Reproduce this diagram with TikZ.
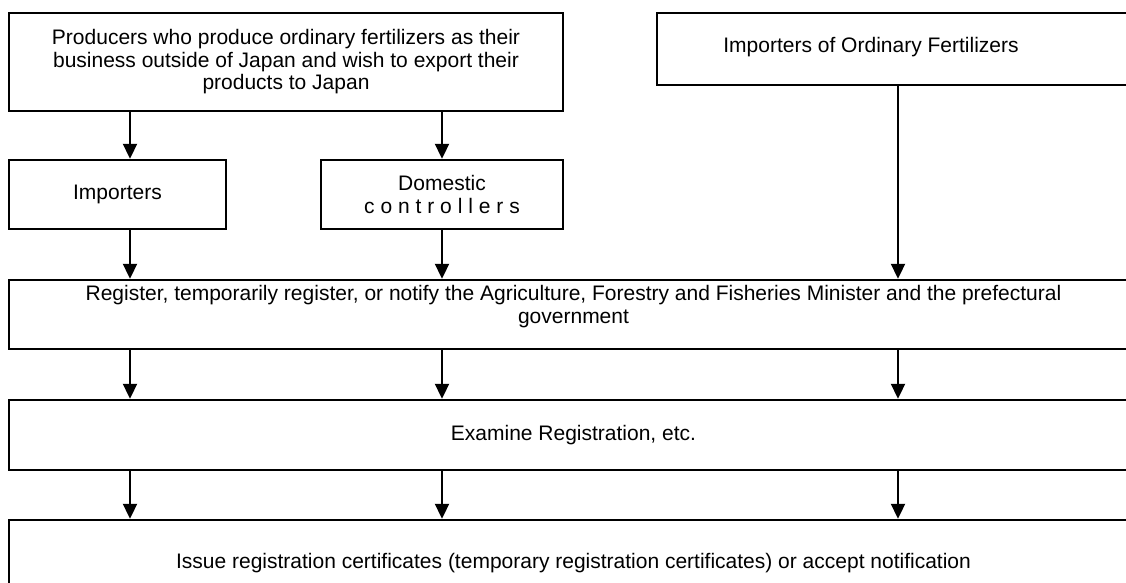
\documentclass[tikz,border=0pt]{standalone}
\usepackage{fontspec}
\setmainfont{Liberation Sans}
\usetikzlibrary{arrows.meta}
\begin{document}
\begin{tikzpicture}[x=1pt,y=-1pt,
  box/.style={draw, line width=1.4pt, inner sep=0pt, align=center,
    font=\fontsize{21}{22.5}\selectfont},
  txt/.style={inner sep=0pt, align=center, font=\fontsize{21}{22.5}\selectfont},
  arr/.style={line width=2pt, -{Triangle[width=14pt,length=15pt]}, shorten >=0.5pt}]
\begin{scope}
\clip (0,0) rectangle (1126,583);
\node[box, minimum width=554pt, minimum height=98pt] (prod) at (286,62)
  {Producers who produce ordinary fertilizers as their\\business outside of Japan and wish to export their\\products to Japan};
\node[box, minimum width=483pt, minimum height=72pt,
  label={[txt, xshift=-27.5pt, yshift=2pt, name=ioftxt]center:Importers of Ordinary Fertilizers}] (iof) at (898.5,49) {};
\node[box, minimum width=217pt, minimum height=69pt] (imp) at (117.5,194.5) {Importers};
\node[box, minimum width=242pt, minimum height=69pt] (dom) at (442,194.5)
  {Domestic\\{\addfontfeature{LetterSpace=28}controllers}};
\node[box, minimum width=1129pt, minimum height=69pt,
  label={[txt, yshift=8pt, name=regtxt]center:Register, temporarily register, or notify the Agriculture, Forestry and Fisheries Minister and the prefectural\\government}] (reg) at (573.5,314.5) {};
\node[box, minimum width=1129pt, minimum height=70pt] (exam) at (573.5,435) {Examine Registration, etc.};
\node[box, minimum width=1129pt, minimum height=86pt] (issue) at (573.5,563)
  {Issue registration certificates (temporary registration certificates) or accept notification};
\coordinate (c1) at (130,0);
\coordinate (c2) at (442,0);
\coordinate (c3) at (898,0);
\draw[arr] (prod.south -| c1) -- (imp.north -| c1);
\draw[arr] (prod.south -| c2) -- (dom.north -| c2);
\draw[arr] (imp.south -| c1) -- (reg.north -| c1);
\draw[arr] (dom.south -| c2) -- (reg.north -| c2);
\draw[arr] (iof.south -| c3) -- (reg.north -| c3);
\foreach \c in {c1,c2,c3} {
  \draw[arr] (reg.south -| \c) -- (exam.north -| \c);
  \draw[arr] (exam.south -| \c) -- (issue.north -| \c);
}
\end{scope}
\pgfresetboundingbox
\path[use as bounding box] (0,0) rectangle (1126,583);
\end{tikzpicture}
\end{document}
